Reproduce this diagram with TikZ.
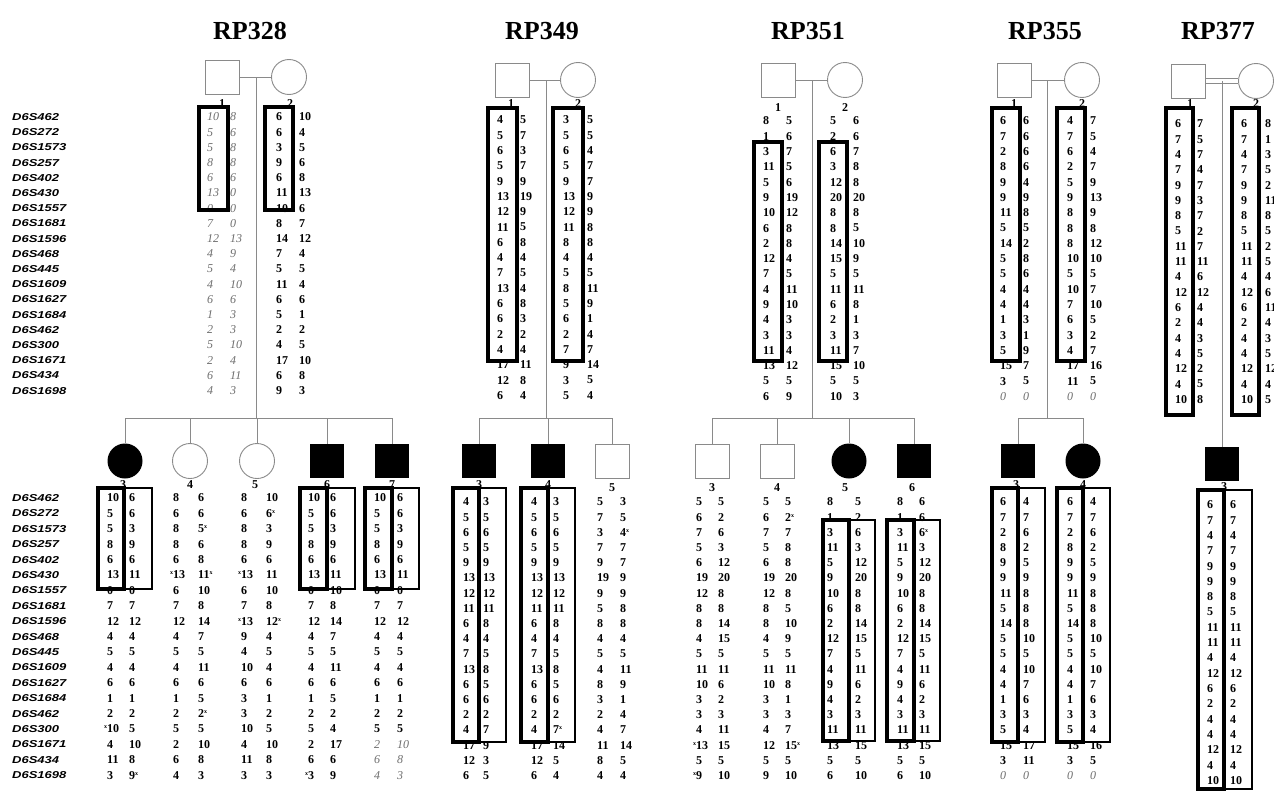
\documentclass[tikz,border=0pt]{standalone}
\usepackage{fontspec}
\setmainfont{Liberation Serif}
\newfontfamily\mkfont{Liberation Sans}
\definecolor{pline}{HTML}{8A8A8A}
\definecolor{gnum}{HTML}{6E6E6E}
\newcommand{\xs}{\rlap{\smash{\raisebox{4pt}{\fontsize{6}{6}\selectfont x}}}}
\newcommand{\xp}{\llap{\smash{\raisebox{4pt}{\fontsize{6}{6}\selectfont x}}}}
\newcommand{\gi}[1]{{\mdseries\itshape\color{gnum}#1}}
\newcommand{\hcol}[6]{\foreach \v [count=\i] in {#6}{\node[num,#5] (#1-\i) at (#2,{#3+(\i-1)*#4}) {\v};}}
\newcommand{\pbox}[4]{\draw[hbox] (#1,#3) rectangle (#2,#4);}
\newcommand{\kbox}[5]{\draw[hboxr] (#2,#4) rectangle (#3,#5);\draw[hbox] (#1,#4) rectangle (#2,#5);}
\begin{document}
\begin{tikzpicture}[x=1pt,y=-1pt,
  num/.style={anchor=west,inner sep=0pt,font=\fontsize{12}{12}\selectfont\bfseries},
  gst/.style={font=\fontsize{12}{12}\selectfont\itshape,text=gnum},
  mk/.style={anchor=west,inner sep=0pt,font=\mkfont\bfseries\itshape\fontsize{10}{10}\selectfont},
  lab/.style={inner sep=0pt,font=\fontsize{12}{12}\selectfont\bfseries},
  ttl/.style={inner sep=0pt,font=\fontsize{26}{26}\selectfont\bfseries},
  pl/.style={draw=pline,line width=0.9pt},
  usq/.style={draw=pline,line width=0.9pt,minimum size=34pt,inner sep=0pt,fill=white},
  uci/.style={circle,draw=pline,line width=0.9pt,minimum size=35pt,inner sep=0pt,fill=white},
  asq/.style={fill=black,minimum size=34pt,inner sep=0pt},
  aci/.style={circle,fill=black,minimum size=35pt,inner sep=0pt},
  hbox/.style={draw=black,line width=4.2pt},
  hboxr/.style={draw=black,line width=2.4pt}]
\fill[white] (0,0) rectangle (1274,792);
\useasboundingbox (0,0) rectangle (1274,792);

% ---------- titles
\node[ttl] (t328) at (250,31) {RP328};
\node[ttl] (t349) at (542,31) {RP349};
\node[ttl] (t351) at (808,31) {RP351};
\node[ttl] (t355) at (1045,31) {RP355};
\node[ttl] (t377) at (1218,31) {RP377};

% ---------- marker names
\foreach \m [count=\i] in {D6S462,D6S272,D6S1573,D6S257,D6S402,D6S430,D6S1557,D6S1681,D6S1596,D6S468,D6S445,D6S1609,D6S1627,D6S1684,D6S462,D6S300,D6S1671,D6S434,D6S1698}{
  \node[mk] (mt-\i) at (12,{117+(\i-1)*15.2}) {\scalebox{1.3}[1]{\m}};
  \node[mk] (mb-\i) at (12,{498+(\i-1)*15.4}) {\scalebox{1.3}[1]{\m}};
}

% ---------- pedigree symbols
% RP328
\node[usq] (f328) at (222,77) {};
\node[uci] (m328) at (289,77) {};
\node[aci] (k328a) at (125,461) {};
\node[uci] (k328b) at (190,461) {};
\node[uci] (k328c) at (257,461) {};
\node[asq] (k328d) at (327,461) {};
\node[asq] (k328e) at (392,461) {};
\coordinate (d328) at (256,77);
\coordinate (s328) at (256,418);
% RP349
\node[usq] (f349) at (512,80) {};
\node[uci] (m349) at (578,80) {};
\node[asq] (k349a) at (479,461) {};
\node[asq] (k349b) at (548,461) {};
\node[usq] (k349c) at (612,461) {};
\coordinate (d349) at (546,80);
\coordinate (s349) at (546,418);
% RP351
\node[usq] (f351) at (778,80) {};
\node[uci] (m351) at (845,80) {};
\node[usq] (k351a) at (712,461) {};
\node[usq] (k351b) at (777,461) {};
\node[aci] (k351c) at (849,461) {};
\node[asq] (k351d) at (914,461) {};
\coordinate (d351) at (812,80);
\coordinate (s351) at (812,418);
% RP355
\node[usq] (f355) at (1014,80) {};
\node[uci] (m355) at (1082,80) {};
\node[asq] (k355a) at (1018,461) {};
\node[aci] (k355b) at (1083,461) {};
\coordinate (d355) at (1047,80);
\coordinate (s355) at (1047,418);
% RP377
\node[usq] (f377) at (1188,81) {};
\node[uci] (m377) at (1256,81) {};
\node[asq] (k377) at (1222,464) {};
\coordinate (d377) at (1222,81);

% ---------- connectors
\draw[pl] (f328.east) -- (m328.west);
\draw[pl] (d328) -- (s328);
\foreach \k in {k328a,k328b,k328c,k328d,k328e}{\draw[pl] (s328) -| (\k.north);}
\draw[pl] (f349.east) -- (m349.west);
\draw[pl] (d349) -- (s349);
\foreach \k in {k349a,k349b,k349c}{\draw[pl] (s349) -| (\k.north);}
\draw[pl] (f351.east) -- (m351.west);
\draw[pl] (d351) -- (s351);
\foreach \k in {k351a,k351b,k351c,k351d}{\draw[pl] (s351) -| (\k.north);}
\draw[pl] (f355.east) -- (m355.west);
\draw[pl] (d355) -- (s355);
\foreach \k in {k355a,k355b}{\draw[pl] (s355) -| (\k.north);}
\draw[pl] ([yshift=2.5pt]f377.east) -- ([yshift=2.5pt]m377.west);
\draw[pl] ([yshift=-2.5pt]f377.east) -- ([yshift=-2.5pt]m377.west);
\draw[pl] (d377) -- (k377.north);

% ---------- individual numbers
\node[lab] (l328a) at (222,104) {1}; \node[lab] (l328b) at (290,104) {2};
\node[lab] (l349a) at (511,104) {1}; \node[lab] (l349b) at (578,104) {2};
\node[lab] (l351a) at (778,108) {1}; \node[lab] (l351b) at (845,108) {2};
\node[lab] (l355a) at (1014,104) {1}; \node[lab] (l355b) at (1082,104) {2};
\node[lab] (l377a) at (1190,104) {1}; \node[lab] (l377b) at (1256,104) {2};
\node[lab] (n328a) at (123,485) {3}; \node[lab] (n328b) at (190,485) {4};
\node[lab] (n328c) at (255,485) {5}; \node[lab] (n328d) at (327,485) {6};
\node[lab] (n328e) at (392,485) {7};
\node[lab] (n349a) at (479,485) {3}; \node[lab] (n349b) at (548,485) {4};
\node[lab] (n349c) at (612,488) {5};
\node[lab] (n351a) at (712,488) {3}; \node[lab] (n351b) at (777,488) {4};
\node[lab] (n351c) at (845,488) {5}; \node[lab] (n351d) at (912,488) {6};
\node[lab] (n355a) at (1016,485) {3}; \node[lab] (n355b) at (1083,485) {4};
\node[lab] (n377) at (1224,487) {3};

% ---------- RP328 haplotypes
\hcol{t328f1}{207}{117}{15.2}{gst}{10,5,5,8,6,13,0,7,12,4,5,4,6,1,2,5,2,6,4}
\hcol{t328f2}{230}{117}{15.2}{gst}{8,6,8,8,6,0,0,0,13,9,4,10,6,3,3,10,4,11,3}
\hcol{t328m1}{276}{117}{15.2}{}{6,6,3,9,6,11,10,8,14,7,5,11,6,5,2,4,17,6,9}
\hcol{t328m2}{299}{117}{15.2}{}{10,4,5,6,8,13,6,7,12,4,5,4,6,1,2,5,10,8,3}
\hcol{b328a1}{107}{498}{15.4}{}{10,5,5,8,6,13,0,7,12,4,5,4,6,1,2,{\xp 10},4,11,3}
\hcol{b328a2}{129}{498}{15.4}{}{6,6,3,9,6,11,0,7,12,4,5,4,6,1,2,5,10,8,{9\xs}}
\hcol{b328b1}{173}{498}{15.4}{}{8,6,8,8,6,{\xp 13},6,7,12,4,5,4,6,1,2,5,2,6,4}
\hcol{b328b2}{198}{498}{15.4}{}{6,6,{5\xs},6,8,{11\xs},10,8,14,7,5,11,6,5,{2\xs},5,10,8,3}
\hcol{b328c1}{241}{498}{15.4}{}{8,6,8,8,6,{\xp 13},6,7,{\xp 13},9,4,10,6,3,3,10,4,11,3}
\hcol{b328c2}{266}{498}{15.4}{}{10,{6\xs},3,9,6,11,10,8,{12\xs},4,5,4,6,1,2,5,10,8,3}
\hcol{b328d1}{308}{498}{15.4}{}{10,5,5,8,6,13,0,7,12,4,5,4,6,1,2,5,2,6,{\xp 3}}
\hcol{b328d2}{330}{498}{15.4}{}{6,6,3,9,6,11,10,8,14,7,5,11,6,5,2,4,17,6,9}
\hcol{b328e1}{374}{498}{15.4}{}{10,5,5,8,6,13,0,7,12,4,5,4,6,1,2,5,\gi{2},\gi{6},\gi{4}}
\hcol{b328e2}{397}{498}{15.4}{}{6,6,3,9,6,11,0,7,12,4,5,4,6,1,2,5,\gi{10},\gi{8},\gi{3}}

% ---------- RP349 haplotypes
\hcol{t349f1}{497}{120}{15.3}{}{4,5,6,5,9,13,12,11,6,4,7,13,6,6,2,4,17,12,6}
\hcol{t349f2}{520}{120}{15.3}{}{5,7,3,7,9,19,9,5,8,4,5,4,8,3,2,4,11,8,4}
\hcol{t349m1}{563}{120}{15.3}{}{3,5,6,5,9,13,12,11,8,4,5,8,5,6,2,7,9,3,5}
\hcol{t349m2}{587}{120}{15.3}{}{5,5,4,7,7,9,9,8,8,4,5,11,9,1,4,7,14,5,4}
\hcol{b349a1}{463}{502}{15.2}{}{4,5,6,5,9,13,12,11,6,4,7,13,6,6,2,4,17,12,6}
\hcol{b349a2}{483}{502}{15.2}{}{3,5,6,5,9,13,12,11,8,4,5,8,5,6,2,7,9,3,5}
\hcol{b349b1}{531}{502}{15.2}{}{4,5,6,5,9,13,12,11,6,4,7,13,6,6,2,4,17,12,6}
\hcol{b349b2}{553}{502}{15.2}{}{3,5,6,5,9,13,12,11,8,4,5,8,5,6,2,{7\xs},14,5,4}
\hcol{b349c1}{597}{502}{15.2}{}{5,7,3,7,9,19,9,5,8,4,5,4,8,3,2,4,11,8,4}
\hcol{b349c2}{620}{502}{15.2}{}{3,5,{4\xs},7,7,9,9,8,8,4,5,11,9,1,4,7,14,5,4}

% ---------- RP351 haplotypes
\hcol{t351f1}{763}{121}{15.3}{}{8,1,3,11,5,9,10,6,2,12,7,4,9,4,3,11,13,5,6}
\hcol{t351f2}{786}{121}{15.3}{}{5,6,7,5,6,19,12,8,8,4,5,11,10,3,3,4,12,5,9}
\hcol{t351m1}{830}{121}{15.3}{}{5,2,6,3,12,20,8,8,14,15,5,11,6,2,3,11,15,5,10}
\hcol{t351m2}{853}{121}{15.3}{}{6,6,7,8,8,20,8,5,10,9,5,11,8,1,3,7,10,5,3}
\hcol{b351a1}{696}{502}{15.2}{}{5,6,7,5,6,19,12,8,8,4,5,11,10,3,3,4,{\xp 13},5,{\xp 9}}
\hcol{b351a2}{718}{502}{15.2}{}{5,2,6,3,12,20,8,8,14,15,5,11,6,2,3,11,15,5,10}
\hcol{b351b1}{763}{502}{15.2}{}{5,6,7,5,6,19,12,8,8,4,5,11,10,3,3,4,12,5,9}
\hcol{b351b2}{785}{502}{15.2}{}{5,{2\xs},7,8,8,20,8,5,10,9,5,11,8,1,3,7,{15\xs},5,10}
\hcol{b351c1}{827}{502}{15.2}{}{8,1,3,11,5,9,10,6,2,12,7,4,9,4,3,11,13,5,6}
\hcol{b351c2}{855}{502}{15.2}{}{5,2,6,3,12,20,8,8,14,15,5,11,6,2,3,11,15,5,10}
\hcol{b351d1}{897}{502}{15.2}{}{8,1,3,11,5,9,10,6,2,12,7,4,9,4,3,11,13,5,6}
\hcol{b351d2}{919}{502}{15.2}{}{6,6,{6\xs},3,12,20,8,8,14,15,5,11,6,2,3,11,15,5,10}

% ---------- RP355 haplotypes
\hcol{t355f1}{1000}{121}{15.3}{}{6,7,2,8,9,9,11,5,14,5,5,4,4,1,3,5,15,3,\gi{0}}
\hcol{t355f2}{1023}{121}{15.3}{}{6,6,6,6,4,9,8,5,2,8,6,4,4,3,1,9,7,5,\gi{0}}
\hcol{t355m1}{1067}{121}{15.3}{}{4,7,6,2,5,9,8,8,8,10,5,10,7,6,3,4,17,11,\gi{0}}
\hcol{t355m2}{1090}{121}{15.3}{}{7,5,4,7,9,13,9,8,12,10,5,7,10,5,2,7,16,5,\gi{0}}
\hcol{b355a1}{1000}{502}{15.2}{}{6,7,2,8,9,9,11,5,14,5,5,4,4,1,3,5,15,3,\gi{0}}
\hcol{b355a2}{1023}{502}{15.2}{}{4,7,6,2,5,9,8,8,8,10,5,10,7,6,3,4,17,11,\gi{0}}
\hcol{b355b1}{1067}{502}{15.2}{}{6,7,2,8,9,9,11,5,14,5,5,4,4,1,3,5,15,3,\gi{0}}
\hcol{b355b2}{1090}{502}{15.2}{}{4,7,6,2,5,9,8,8,8,10,5,10,7,6,3,4,16,5,\gi{0}}

% ---------- RP377 haplotypes
\hcol{t377f1}{1175}{124}{15.3}{}{6,7,4,7,9,9,8,5,11,11,4,12,6,2,4,4,12,4,10}
\hcol{t377f2}{1197}{124}{15.3}{}{7,5,7,4,7,3,7,2,7,11,6,12,4,4,3,5,2,5,8}
\hcol{t377m1}{1241}{124}{15.3}{}{6,7,4,7,9,9,8,5,11,11,4,12,6,2,4,4,12,4,10}
\hcol{t377m2}{1265}{124}{15.3}{}{8,1,3,5,2,11,8,5,2,5,4,6,11,4,3,5,12,4,5}
\hcol{b377a1}{1207}{505}{15.3}{}{6,7,4,7,9,9,8,5,11,11,4,12,6,2,4,4,12,4,10}
\hcol{b377a2}{1230}{505}{15.3}{}{6,7,4,7,9,9,8,5,11,11,4,12,6,2,4,4,12,4,10}

% ---------- haplotype boxes
\pbox{199}{228}{107}{210}
\pbox{265}{293}{107}{210}
\kbox{98}{124}{152}{488}{589}
\kbox{300}{327}{355}{488}{589}
\kbox{365}{392}{419}{488}{589}
\pbox{488}{517}{108}{361}
\pbox{553}{583}{108}{361}
\kbox{453}{479}{506}{488}{742}
\kbox{521}{548}{575}{488}{742}
\pbox{754}{782}{142}{361}
\pbox{819}{847}{142}{361}
\kbox{823}{849}{875}{520}{741}
\kbox{887}{914}{940}{520}{741}
\pbox{992}{1020}{108}{361}
\pbox{1057}{1085}{108}{361}
\kbox{992}{1018}{1045}{488}{742}
\kbox{1057}{1083}{1110}{488}{742}
\pbox{1166}{1193}{108}{415}
\pbox{1232}{1259}{108}{415}
\kbox{1198}{1224}{1252}{490}{789}
\end{tikzpicture}
\end{document}
